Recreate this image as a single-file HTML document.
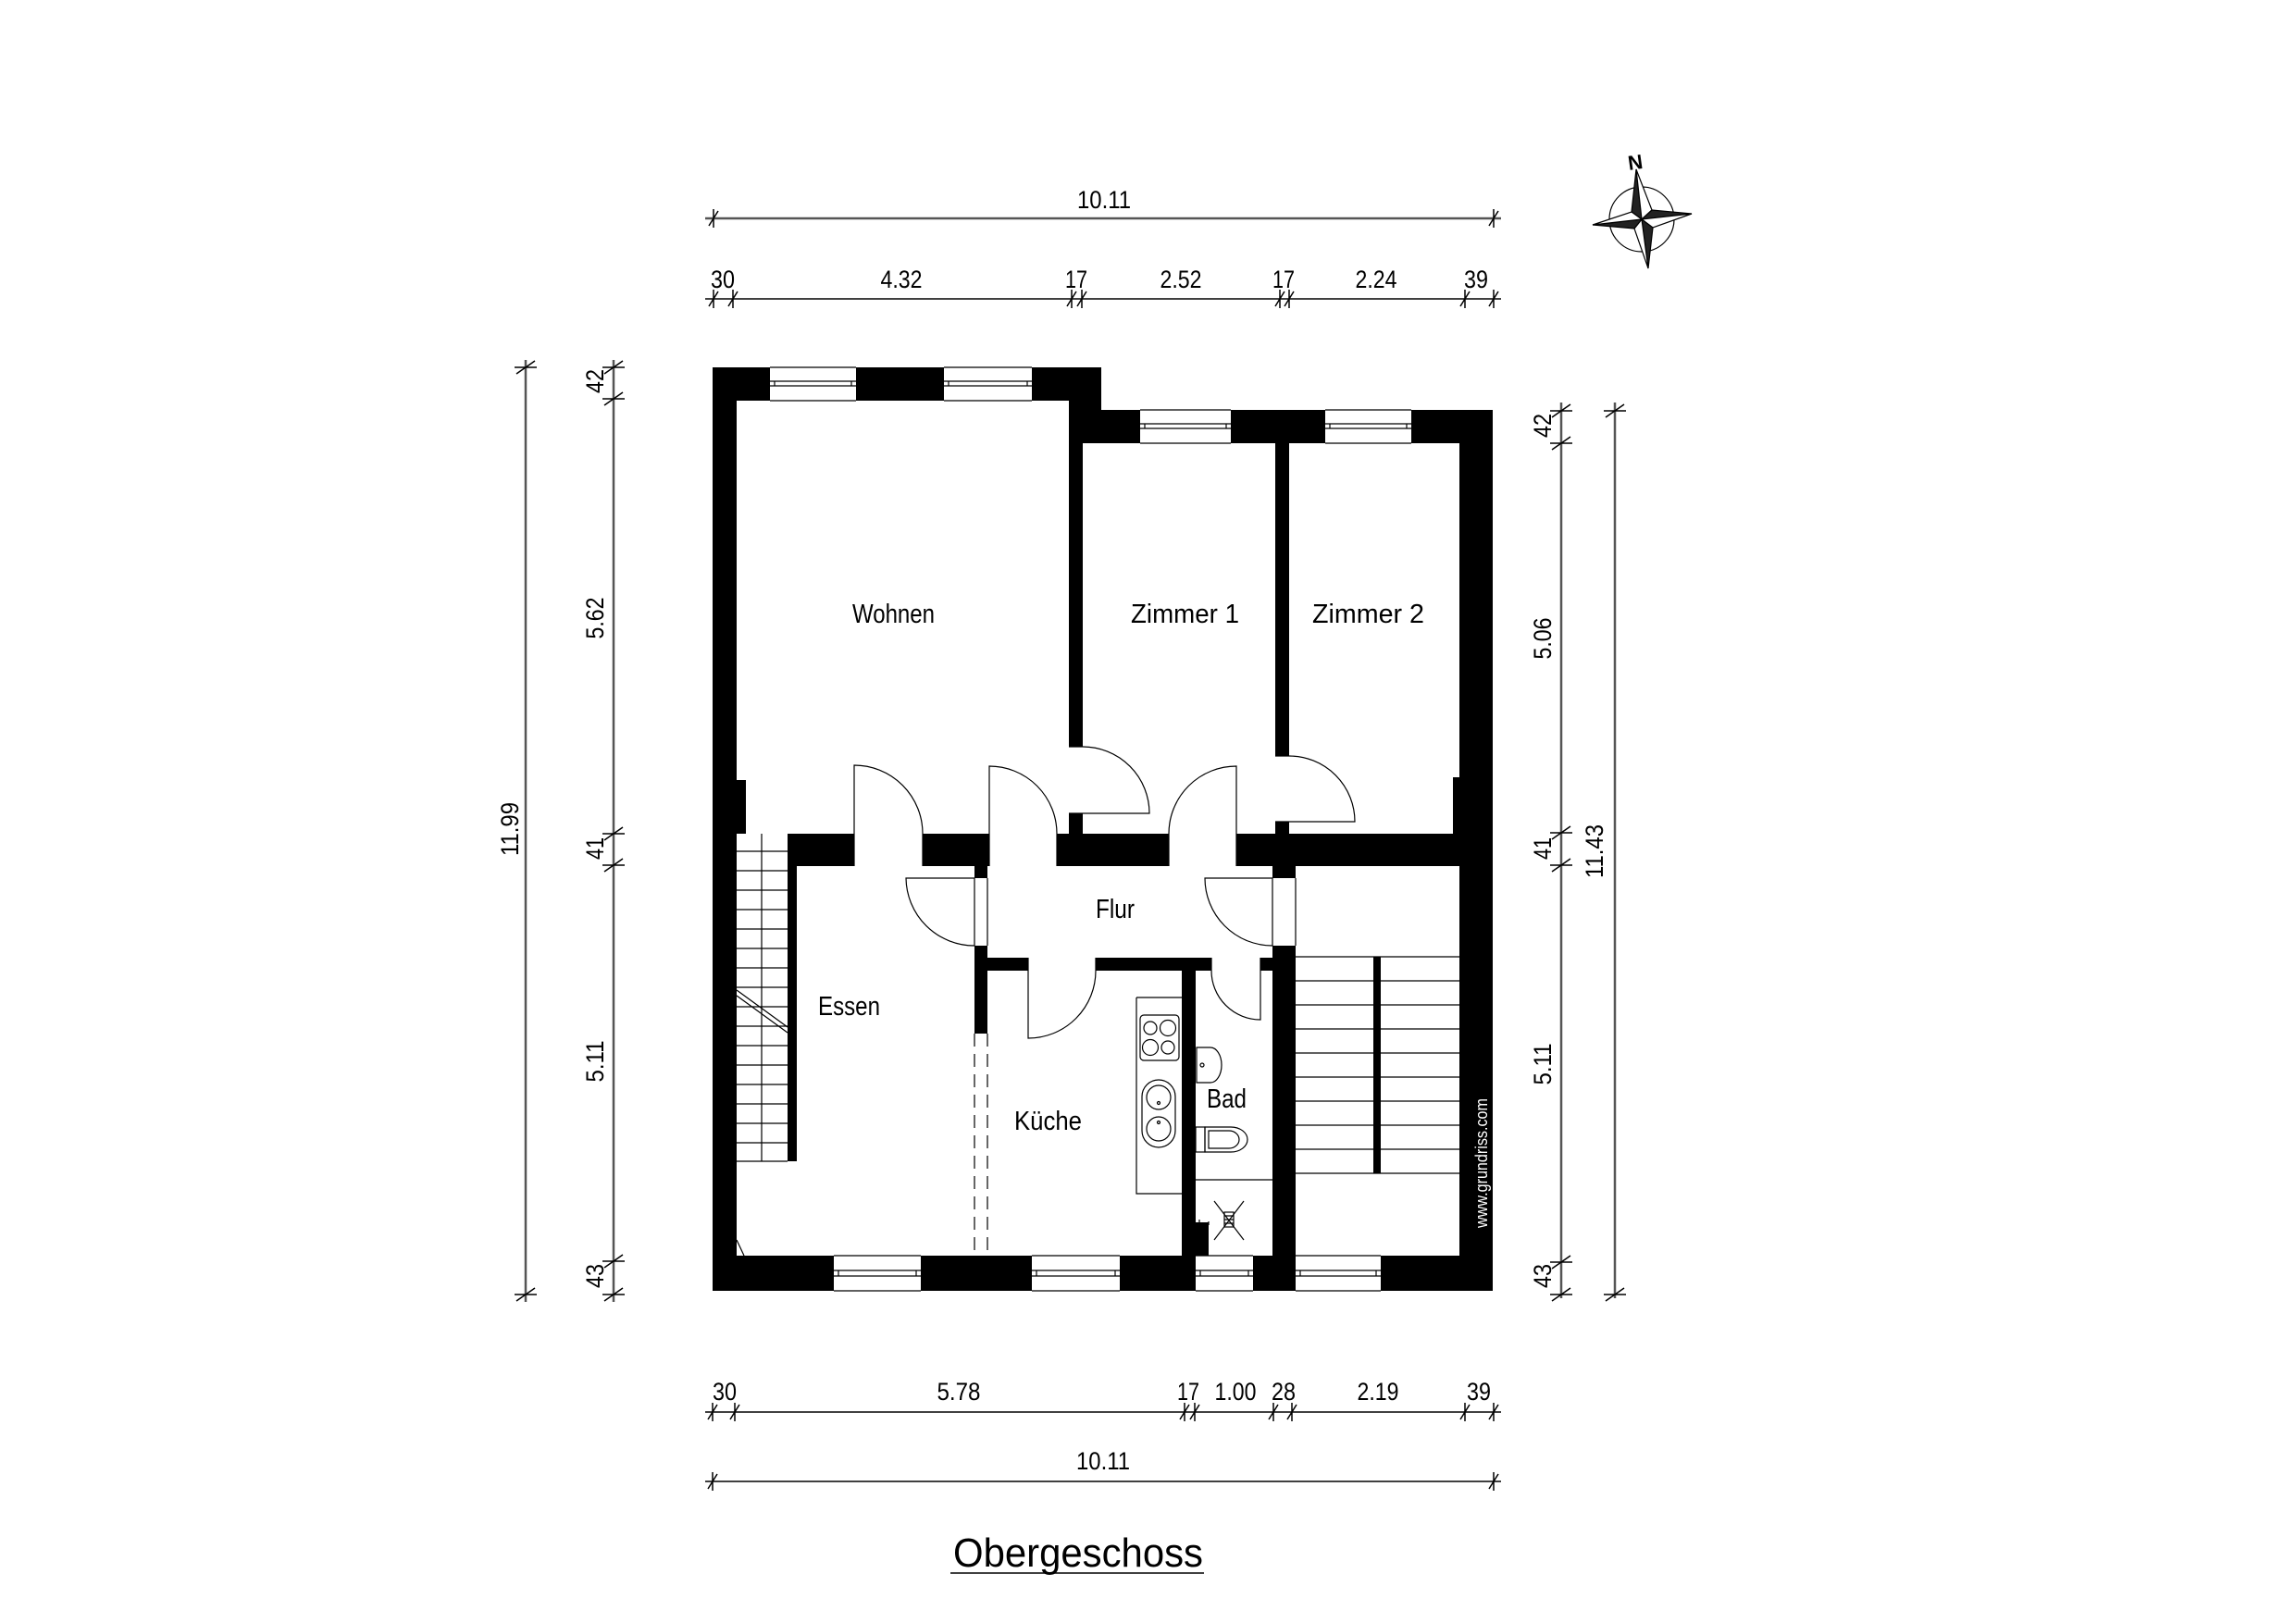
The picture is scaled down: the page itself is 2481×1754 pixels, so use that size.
<!DOCTYPE html>
<html><head><meta charset="utf-8"><style>
html,body{margin:0;padding:0;background:#fff;}
svg{display:block;}
text{font-family:"Liberation Sans",sans-serif;fill:#000;}
</style></head><body>
<svg width="2481" height="1754" viewBox="0 0 2481 1754" xmlns="http://www.w3.org/2000/svg">
<rect width="2481" height="1754" fill="#fff"/>
<!-- walls -->
<polygon points="770,397 1190,397 1190,443 1613,443 1613,1395 770,1395" fill="#000"/>
<g fill="#fff">
<rect x="796" y="433" width="359" height="410"/>
<rect x="806" y="843" width="349" height="58"/>
<rect x="1170" y="479" width="208" height="422"/>
<rect x="1393" y="479" width="184" height="361"/>
<rect x="1393" y="840" width="177" height="61"/>
<rect x="796" y="901" width="55" height="354"/>
<rect x="861" y="936" width="192" height="421"/>
<rect x="796" y="1255" width="257" height="102"/>
<rect x="1053" y="1117" width="14" height="240"/>
<rect x="1053" y="949" width="14" height="73"/>
<rect x="1067" y="936" width="308" height="99"/>
<rect x="1067" y="1049" width="210" height="308"/>
<rect x="1292" y="1049" width="83" height="308"/>
<rect x="1400" y="936" width="177" height="421"/>
<rect x="1375" y="949" width="25" height="73"/>
<!-- door openings -->
<rect x="923" y="900" width="74" height="37"/>
<rect x="1069" y="900" width="73" height="37"/>
<rect x="1263" y="900" width="73" height="37"/>
<rect x="1155" y="807" width="15" height="72"/>
<rect x="1378" y="817" width="15" height="71"/>
<rect x="1111" y="1034" width="73" height="16"/>
<rect x="1309" y="1034" width="53" height="16"/>
<!-- windows -->
<rect x="832" y="397" width="93" height="36"/>
<rect x="1020" y="397" width="95" height="36"/>
<rect x="1232" y="443" width="98" height="36"/>
<rect x="1432" y="443" width="93" height="36"/>
<rect x="901" y="1357" width="94" height="38"/>
<rect x="1115" y="1357" width="95" height="38"/>
<rect x="1292" y="1357" width="62" height="38"/>
<rect x="1400" y="1357" width="92" height="38"/>
</g>
<rect x="1292" y="1321" width="14" height="36" fill="#000"/>
<g stroke="#000" stroke-width="1.2" fill="none">
<!-- window frames -->
<path d="M832,397H925M832,433H925M832,412H925M832,417H925M837,412V417M920,412V417"/>
<path d="M1020,397H1115M1020,433H1115M1020,412H1115M1020,417H1115M1025,412V417M1110,412V417"/>
<path d="M1232,443H1330M1232,479H1330M1232,458H1330M1232,463H1330M1237,458V463M1325,458V463"/>
<path d="M1432,443H1525M1432,479H1525M1432,458H1525M1432,463H1525M1437,458V463M1520,458V463"/>
<path d="M901,1357H995M901,1395H995M901,1373H995M901,1379H995M906,1373V1379M990,1373V1379"/>
<path d="M1115,1357H1210M1115,1395H1210M1115,1373H1210M1115,1379H1210M1120,1373V1379M1205,1373V1379"/>
<path d="M1292,1357H1354M1292,1395H1354M1292,1373H1354M1292,1379H1354M1297,1373V1379M1349,1373V1379"/>
<path d="M1400,1357H1492M1400,1395H1492M1400,1373H1492M1400,1379H1492M1405,1373V1379M1487,1373V1379"/>
<!-- door frame lines -->
<path d="M923,901V936M997,901V936M1069,901V936M1142,901V936M1263,901V936M1336,901V936"/>
<path d="M1155,807H1170M1155,879H1170M1378,817H1393M1378,888H1393"/>
<path d="M1053,949V1022M1067,949V1022M1375,949V1022M1400,949V1022"/>
<path d="M1111,1035V1049M1184,1035V1049M1309,1035V1049M1362,1035V1049"/>
<!-- doors -->
<path d="M923,901V827A74,74 0 0 1 997,901"/>
<path d="M1069,901V828A73,73 0 0 1 1142,901"/>
<path d="M1336,901V828A73,73 0 0 0 1263,901"/>
<path d="M1170,807A72,72 0 0 1 1242,879H1170"/>
<path d="M1393,817A71,71 0 0 1 1464,888H1393"/>
<path d="M1053,949H979A74,74 0 0 0 1053,1022"/>
<path d="M1375,949H1302A73,73 0 0 0 1375,1022"/>
<path d="M1111,1049V1122A73,73 0 0 0 1184,1049"/>
<path d="M1362,1049V1102A53,53 0 0 1 1309,1049"/>
<!-- dashed opening -->
<path d="M1053,1117V1357M1067,1117V1357" stroke-dasharray="14,8"/>
<!-- left stair -->
<path d="M823,901V1255M796,920H851M796,941H851M796,962H851M796,983H851M796,1004H851M796,1025H851M796,1046H851M796,1067H851M796,1088H851M796,1109H851M796,1130H851M796,1151H851M796,1172H851M796,1193H851M796,1214H851M796,1235H851M796,1255H851"/>
<path d="M796,1070L851,1110M796,1076L851,1116"/>
<path d="M796,1340L804,1357"/>
<!-- right stair -->
<path d="M1400,1034H1577M1400,1060H1577M1400,1086H1577M1400,1112H1577M1400,1138H1577M1400,1164H1577M1400,1190H1577M1400,1216H1577M1400,1242H1577M1400,1268H1577"/>
<!-- kitchen -->
<path d="M1228,1078H1277M1228,1078V1290H1277"/>
<rect x="1232" y="1097" width="42" height="49" rx="4"/>
<circle cx="1243" cy="1111" r="7"/><circle cx="1262" cy="1111" r="8.5"/>
<circle cx="1243" cy="1132" r="8.5"/><circle cx="1262" cy="1132" r="7"/>
<rect x="1234" y="1167" width="36" height="73" rx="18"/>
<circle cx="1252" cy="1186" r="13"/><circle cx="1252" cy="1220" r="13"/>
<circle cx="1252" cy="1192" r="1.5"/><circle cx="1252" cy="1213" r="1.5"/>
<!-- bath -->
<path d="M1293,1132H1308A12,19 0 0 1 1308,1170H1293Z"/>
<circle cx="1299" cy="1151" r="2"/>
<rect x="1292" y="1218" width="10" height="27"/>
<path d="M1302,1218H1330A18,13.5 0 0 1 1330,1245H1302Z"/>
<path d="M1306,1222H1328A11,9.5 0 0 1 1328,1241H1306Z"/>
<path d="M1292,1275H1375"/>
<path d="M1312,1298L1344,1340M1344,1298L1312,1340"/>
<rect x="1323" y="1310" width="10" height="16"/>
<path d="M1323,1314H1333M1323,1318H1333M1323,1322H1333"/>
<path d="M1296,1322H1306M1296,1318V1326M1306,1320V1324"/>
</g>
<rect x="1484" y="1034" width="8" height="234" fill="#000"/>
<!-- room labels -->
<g font-size="29">
<text x="921" y="673" textLength="89" lengthAdjust="spacingAndGlyphs">Wohnen</text>
<text x="1222" y="673" textLength="117" lengthAdjust="spacingAndGlyphs">Zimmer 1</text>
<text x="1418" y="673" textLength="121" lengthAdjust="spacingAndGlyphs">Zimmer 2</text>
<text x="1184" y="992" textLength="42" lengthAdjust="spacingAndGlyphs">Flur</text>
<text x="884" y="1097" textLength="67" lengthAdjust="spacingAndGlyphs">Essen</text>
<text x="1096" y="1221" textLength="73" lengthAdjust="spacingAndGlyphs">Küche</text>
<text x="1304" y="1197" textLength="43" lengthAdjust="spacingAndGlyphs">Bad</text>
</g>
<text transform="translate(1607,1327) rotate(-90)" font-size="18" textLength="140" lengthAdjust="spacingAndGlyphs" style="fill:#fff">www.grundriss.com</text>
<!-- dimension lines -->
<g stroke="#000" stroke-width="1.5" fill="none">
<path d="M762,236H1622" stroke="#555" stroke-width="2.5"/>
<path d="M762,323H1622"/>
<path d="M762,1526H1622"/>
<path d="M762,1601H1622"/>
<path d="M568,389V1407" stroke="#555" stroke-width="2.5"/>
<path d="M663,389V1407" stroke="#555" stroke-width="2.5"/>
<path d="M1687,435V1403" stroke="#555" stroke-width="2.5"/>
<path d="M1745,435V1403" stroke="#555" stroke-width="2.5"/>
</g>
<g stroke="#000" stroke-width="1.5">
<!-- horizontal ticks -->
<path d="M771,226V246M766,244L776,228M1614,226V246M1609,244L1619,228"/>
<path d="M771,313V333M766,331L776,315M792,313V333M787,331L797,315M1158,313V333M1153,331L1163,315M1169,313V333M1164,331L1174,315M1383,313V333M1378,331L1388,315M1393,313V333M1388,331L1398,315M1583,313V333M1578,331L1588,315M1614,313V333M1609,331L1619,315"/>
<path d="M770,1516V1536M765,1534L775,1518M794,1516V1536M789,1534L799,1518M1280,1516V1536M1275,1534L1285,1518M1291,1516V1536M1286,1534L1296,1518M1376,1516V1536M1371,1534L1381,1518M1396,1516V1536M1391,1534L1401,1518M1583,1516V1536M1578,1534L1588,1518M1614,1516V1536M1609,1534L1619,1518"/>
<path d="M770,1591V1611M765,1609L775,1593M1614,1591V1611M1609,1609L1619,1593"/>
<!-- vertical ticks -->
<path d="M556,397H580M558,404L578,390M556,1399H580M558,1406L578,1392"/>
<path d="M651,397H675M653,404L673,390M651,431H675M653,438L673,424M651,901H675M653,908L673,894M651,935H675M653,942L673,928M651,1363H675M653,1370L673,1356M651,1399H675M653,1406L673,1392"/>
<path d="M1675,444H1699M1677,451L1697,437M1675,479H1699M1677,486L1697,472M1675,900H1699M1677,907L1697,893M1675,935H1699M1677,942L1697,928M1675,1364H1699M1677,1371L1697,1357M1675,1399H1699M1677,1406L1697,1392"/>
<path d="M1733,444H1757M1735,451L1755,437M1733,1399H1757M1735,1406L1755,1392"/>
</g>
<!-- dimension texts -->
<g font-size="27" text-anchor="middle">
<text x="1193" y="225" textLength="58" lengthAdjust="spacingAndGlyphs">10.11</text>
<text x="781" y="311" textLength="26" lengthAdjust="spacingAndGlyphs">30</text>
<text x="974" y="311" textLength="45" lengthAdjust="spacingAndGlyphs">4.32</text>
<text x="1163" y="311" textLength="24" lengthAdjust="spacingAndGlyphs">17</text>
<text x="1276" y="311" textLength="45" lengthAdjust="spacingAndGlyphs">2.52</text>
<text x="1387" y="311" textLength="24" lengthAdjust="spacingAndGlyphs">17</text>
<text x="1487" y="311" textLength="45" lengthAdjust="spacingAndGlyphs">2.24</text>
<text x="1595" y="311" textLength="26" lengthAdjust="spacingAndGlyphs">39</text>
<text x="783" y="1513" textLength="26" lengthAdjust="spacingAndGlyphs">30</text>
<text x="1036" y="1513" textLength="47" lengthAdjust="spacingAndGlyphs">5.78</text>
<text x="1284" y="1513" textLength="24" lengthAdjust="spacingAndGlyphs">17</text>
<text x="1335" y="1513" textLength="45" lengthAdjust="spacingAndGlyphs">1.00</text>
<text x="1387" y="1513" textLength="26" lengthAdjust="spacingAndGlyphs">28</text>
<text x="1489" y="1513" textLength="45" lengthAdjust="spacingAndGlyphs">2.19</text>
<text x="1598" y="1513" textLength="26" lengthAdjust="spacingAndGlyphs">39</text>
<text x="1192" y="1588" textLength="58" lengthAdjust="spacingAndGlyphs">10.11</text>
<text transform="translate(560,896) rotate(-90)" textLength="58" lengthAdjust="spacingAndGlyphs">11.99</text>
<text transform="translate(652,412) rotate(-90)" textLength="26" lengthAdjust="spacingAndGlyphs">42</text>
<text transform="translate(652,668) rotate(-90)" textLength="45" lengthAdjust="spacingAndGlyphs">5.62</text>
<text transform="translate(652,917) rotate(-90)" textLength="24" lengthAdjust="spacingAndGlyphs">41</text>
<text transform="translate(652,1147) rotate(-90)" textLength="45" lengthAdjust="spacingAndGlyphs">5.11</text>
<text transform="translate(652,1379) rotate(-90)" textLength="26" lengthAdjust="spacingAndGlyphs">43</text>
<text transform="translate(1676,460) rotate(-90)" textLength="26" lengthAdjust="spacingAndGlyphs">42</text>
<text transform="translate(1676,690) rotate(-90)" textLength="45" lengthAdjust="spacingAndGlyphs">5.06</text>
<text transform="translate(1676,917) rotate(-90)" textLength="24" lengthAdjust="spacingAndGlyphs">41</text>
<text transform="translate(1732,920) rotate(-90)" textLength="58" lengthAdjust="spacingAndGlyphs">11.43</text>
<text transform="translate(1676,1150) rotate(-90)" textLength="45" lengthAdjust="spacingAndGlyphs">5.11</text>
<text transform="translate(1676,1379) rotate(-90)" textLength="26" lengthAdjust="spacingAndGlyphs">43</text>
</g>
<!-- title -->
<text x="1030" y="1693" font-size="44" textLength="270" lengthAdjust="spacingAndGlyphs">Obergeschoss</text>
<path d="M1027,1700H1301" stroke="#000" stroke-width="1.5"/>
<!-- compass -->
<g stroke="#000" stroke-width="1.2">
<circle cx="1774" cy="237" r="35" fill="none"/>
<polygon points="1768,183 1763,229 1774,237" fill="#222"/>
<polygon points="1768,183 1785,227 1774,237" fill="#fff"/>
<polygon points="1828,231 1785,227 1774,237" fill="#222"/>
<polygon points="1828,231 1786,246 1774,237" fill="#fff"/>
<polygon points="1781,290 1786,246 1774,237" fill="#222"/>
<polygon points="1781,290 1766,247 1774,237" fill="#fff"/>
<polygon points="1721,243 1766,247 1774,237" fill="#222"/>
<polygon points="1721,243 1763,229 1774,237" fill="#fff"/>
</g>
<text x="1767" y="183" font-size="22" font-weight="bold" text-anchor="middle" transform="rotate(-8 1767 175)">N</text>
</svg>
</body></html>
